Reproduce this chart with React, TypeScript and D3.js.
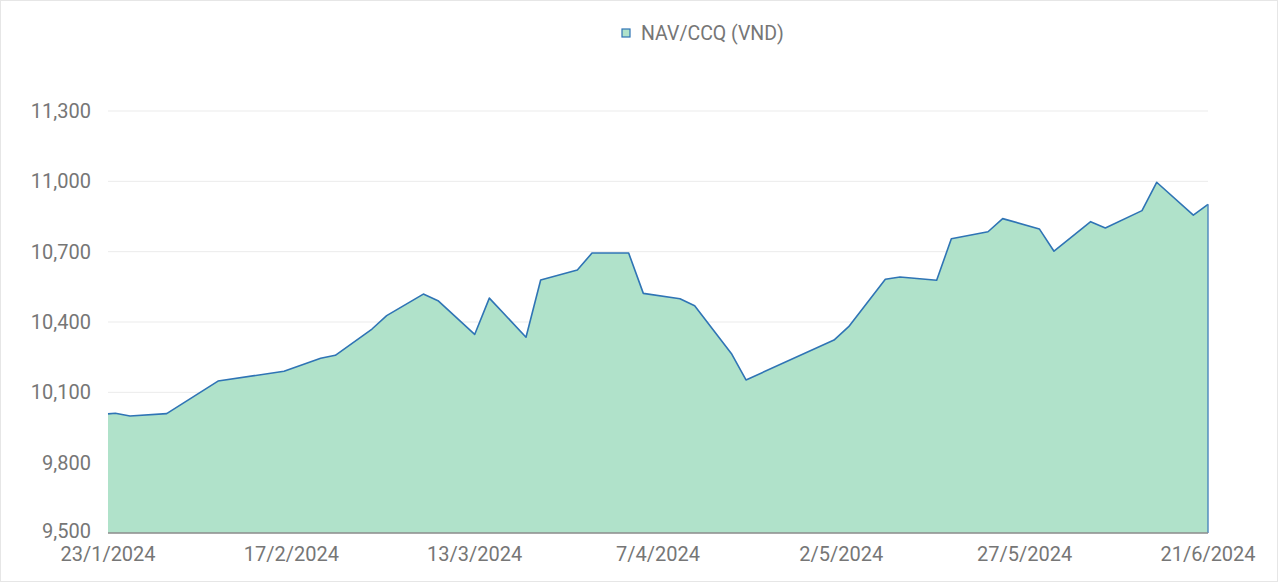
import React from "react";
import * as d3 from "d3";

const dates: string[] = [
  "23/1/2024", "24/1/2024", "26/1/2024", "31/1/2024", "7/2/2024", "16/2/2024",
  "21/2/2024", "23/2/2024", "28/2/2024", "1/3/2024", "6/3/2024", "8/3/2024",
  "13/3/2024", "15/3/2024", "20/3/2024", "22/3/2024", "27/3/2024", "29/3/2024",
  "3/4/2024", "5/4/2024", "10/4/2024", "12/4/2024", "17/4/2024", "19/4/2024",
  "1/5/2024", "3/5/2024", "8/5/2024", "10/5/2024", "15/5/2024", "17/5/2024",
  "22/5/2024", "24/5/2024", "29/5/2024", "31/5/2024", "5/6/2024", "7/6/2024",
  "12/6/2024", "14/6/2024", "19/6/2024", "21/6/2024",
];

const navValues: number[] = [
  10008, 10011, 9999, 10009, 10148, 10190,
  10245, 10258, 10370, 10427, 10519, 10491,
  10347, 10502, 10335, 10579, 10622, 10694,
  10694, 10522, 10499, 10469, 10266, 10153,
  10323, 10380, 10582, 10592, 10578, 10755,
  10785, 10841, 10797, 10702, 10828, 10801,
  10875, 10996, 10856, 10902,
];

const xTickLabels: string[] = [
  "23/1/2024", "17/2/2024", "13/3/2024", "7/4/2024", "2/5/2024", "27/5/2024", "21/6/2024",
];

const yTicks: number[] = [9500, 9800, 10100, 10400, 10700, 11000, 11300];

const seriesName = "NAV/CCQ (VND)";

const parse = d3.utcParse("%d/%m/%Y");

export default function App() {
  const W = 1280;
  const H = 584;
  const left = 108;
  const right = 1208;
  const top = 111;
  const bottom = 533;

  const data = dates.map((d, i) => ({ date: parse(d) as Date, v: navValues[i] }));

  const x = d3
    .scaleUtc()
    .domain([parse(xTickLabels[0]) as Date, parse(xTickLabels[xTickLabels.length - 1]) as Date])
    .range([left, right]);
  const y = d3.scaleLinear().domain([9500, 11300]).range([bottom, top]);

  const area = d3
    .area<{ date: Date; v: number }>()
    .x((d) => x(d.date))
    .y0(y(9500))
    .y1((d) => y(d.v));
  const line = d3
    .line<{ date: Date; v: number }>()
    .x((d) => x(d.date))
    .y((d) => y(d.v));

  const last = data[data.length - 1];
  const fmt = d3.format(",");
  const textColor = "#767676";
  const font = "Roboto, 'Noto Sans', sans-serif";

  return (
    <svg
      width={W}
      height={H}
      style={{ position: "absolute", left: 0, top: 0, background: "#fff" }}
      fontFamily={font}
    >
      <rect x={0.5} y={0.5} width={W - 3} height={H - 3} fill="#fff" stroke="#e6e6e6" strokeWidth={1} />

      {yTicks.map((t) => (
        <line key={t} x1={left} x2={right} y1={y(t)} y2={y(t)} stroke="#ebebeb" strokeWidth={1} />
      ))}

      <path d={area(data) || ""} fill="#b0e2ca" stroke="none" />
      <path d={line(data) || ""} fill="none" stroke="#2f74b5" strokeWidth={1.6} strokeLinejoin="round" />
      <line
        x1={x(last.date)}
        x2={x(last.date)}
        y1={y(last.v)}
        y2={y(9500)}
        stroke="#4a86bd"
        strokeWidth={1.4}
      />
      <line x1={left} x2={right} y1={y(9500)} y2={y(9500)} stroke="#8c8c8c" strokeWidth={1.3} />

      {yTicks.map((t, i) => (
        <text
          key={t}
          x={91}
          y={y(t) + (i === 0 ? -2 : 0)}
          textAnchor="end"
          dominantBaseline="central"
          fontSize={20}
          fill={textColor}
        >
          {fmt(t)}
        </text>
      ))}

      {xTickLabels.map((l) => (
        <text key={l} x={x(parse(l) as Date)} y={560.5} textAnchor="middle" fontSize={20} fill={textColor}>
          {l}
        </text>
      ))}

      <rect x={622} y={29} width={8} height={8} fill="#b0e2ca" stroke="#2f74b5" strokeWidth={1.2} />
      <text x={641} y={33} dominantBaseline="central" fontSize={19.5} fill={textColor}>
        {seriesName}
      </text>
    </svg>
  );
}
